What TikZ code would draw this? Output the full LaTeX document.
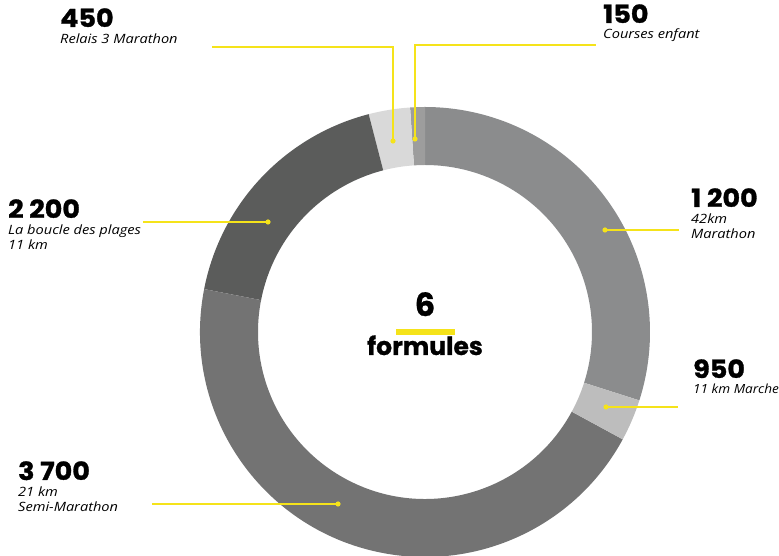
\documentclass[tikz,border=0pt]{standalone}
\usepackage{fontspec}
\newfontfamily\numfont{Poppins}[BoldFeatures={FakeBold=1.2,FakeStretch=1.08}]
\newfontfamily\ctrfont{Poppins}[BoldFeatures={FakeBold=0.8}]
\newfontfamily\txtfont{Open Sans}[FakeStretch=1.14]
\newfontfamily\txtfontn{Open Sans}[FakeStretch=1.08]
\definecolor{ylw}{HTML}{F5E31A}
\definecolor{cA}{HTML}{8B8C8D}
\definecolor{cB}{HTML}{9D9D9D}
\definecolor{cC}{HTML}{D9D9D9}
\definecolor{cD}{HTML}{5B5C5B}
\definecolor{cE}{HTML}{737373}
\definecolor{cF}{HTML}{BDBDBD}
\tikzset{
  num/.style={anchor=base west, inner sep=0pt, text depth=0pt, font=\numfont\bfseries\fontsize{25}{25}\selectfont},
  lbl/.style={anchor=base west, inner sep=0pt, font=\txtfont\itshape\fontsize{12.8}{12.8}\selectfont},
  lbln/.style={anchor=base west, inner sep=0pt, font=\txtfontn\itshape\fontsize{12.6}{12.6}\selectfont},
  leader/.style={draw=ylw, line width=1.2pt},
  dotc/.style={fill=ylw},
}
\newcommand{\seg}[3]{\fill[#3] ($(C)+(#1:225)$) arc[start angle=#1, end angle=#2, radius=225] -- ($(C)+(#2:167)$) arc[start angle=#2, end angle=#1, radius=167] -- cycle;}
\usetikzlibrary{calc}
\begin{document}
\begin{tikzpicture}[x=1pt,y=1pt]
\useasboundingbox (0,0) rectangle (779,556);
\coordinate (C) at (425,224);
% ring
\seg{-17.7}{90}{cA}
\seg{90}{93.8}{cB}
\seg{93.8}{104.5}{cC}
\seg{104.5}{169}{cD}
\seg{169}{331.5}{cE}
\seg{331.5}{342.3}{cF}
% centre
\node[anchor=base, inner sep=0pt, font=\ctrfont\bfseries\fontsize{32}{32}\selectfont] (six) at (425,240) {6};
\fill[ylw] (396,221) rectangle (455,227);
\node[anchor=base, inner sep=0pt, font=\ctrfont\bfseries\fontsize{25}{25}\selectfont] (form) at (425,201) {formules};
% leader points
\coordinate (d450) at (393,415); \coordinate (k450) at (393,509); \coordinate (e450) at (212,509);
\coordinate (d150) at (415,417); \coordinate (k150) at (415,511); \coordinate (e150) at (596,511);
\coordinate (d2200) at (268,334); \coordinate (e2200) at (143,334);
\coordinate (d1200) at (605,326); \coordinate (e1200) at (679,326);
\coordinate (d950) at (606,149); \coordinate (e950) at (678,149);
\coordinate (d3700) at (338,52); \coordinate (e3700) at (152,52);
\draw[leader] (d450) -- (k450) -- (e450);
\draw[leader] (d150) -- (k150) -- (e150);
\draw[leader] (d2200) -- (e2200);
\draw[leader] (d1200) -- (e1200);
\draw[leader] (d950) -- (e950);
\draw[leader] (d3700) -- (e3700);
\foreach \p in {d450,d150,d2200,d1200,d950,d3700} \fill[dotc] (\p) circle (2.6);
% labels
\node[num] (n450) at (60,529) {450};
\node[lbl] (l450) at (60,512) {Relais 3 Marathon};
\node[num] (n150) at (603,533) {150};
\node[lbl] (l150) at (603,517) {Courses enfant};
\node[num] (n2200) at (8,338) {2 200};
\node[lbl] (l2200a) at (8,321) {La boucle des plages};
\node[lbl] (l2200b) at (8,306) {11 km};
\node[num] (n1200) at (691,349) {1 200};
\node[lbl] (l1200a) at (691,332) {42km};
\node[lbl] (l1200b) at (691,317) {Marathon};
\node[num] (n950) at (693,178) {950};
\node[lbln] (l950) at (693,162) {11 km Marche};
\node[num] (n3700) at (18,76) {3 700};
\node[lbl] (l3700a) at (18,59) {21 km};
\node[lbl] (l3700b) at (18,44) {Semi-Marathon};
\end{tikzpicture}
\end{document}
